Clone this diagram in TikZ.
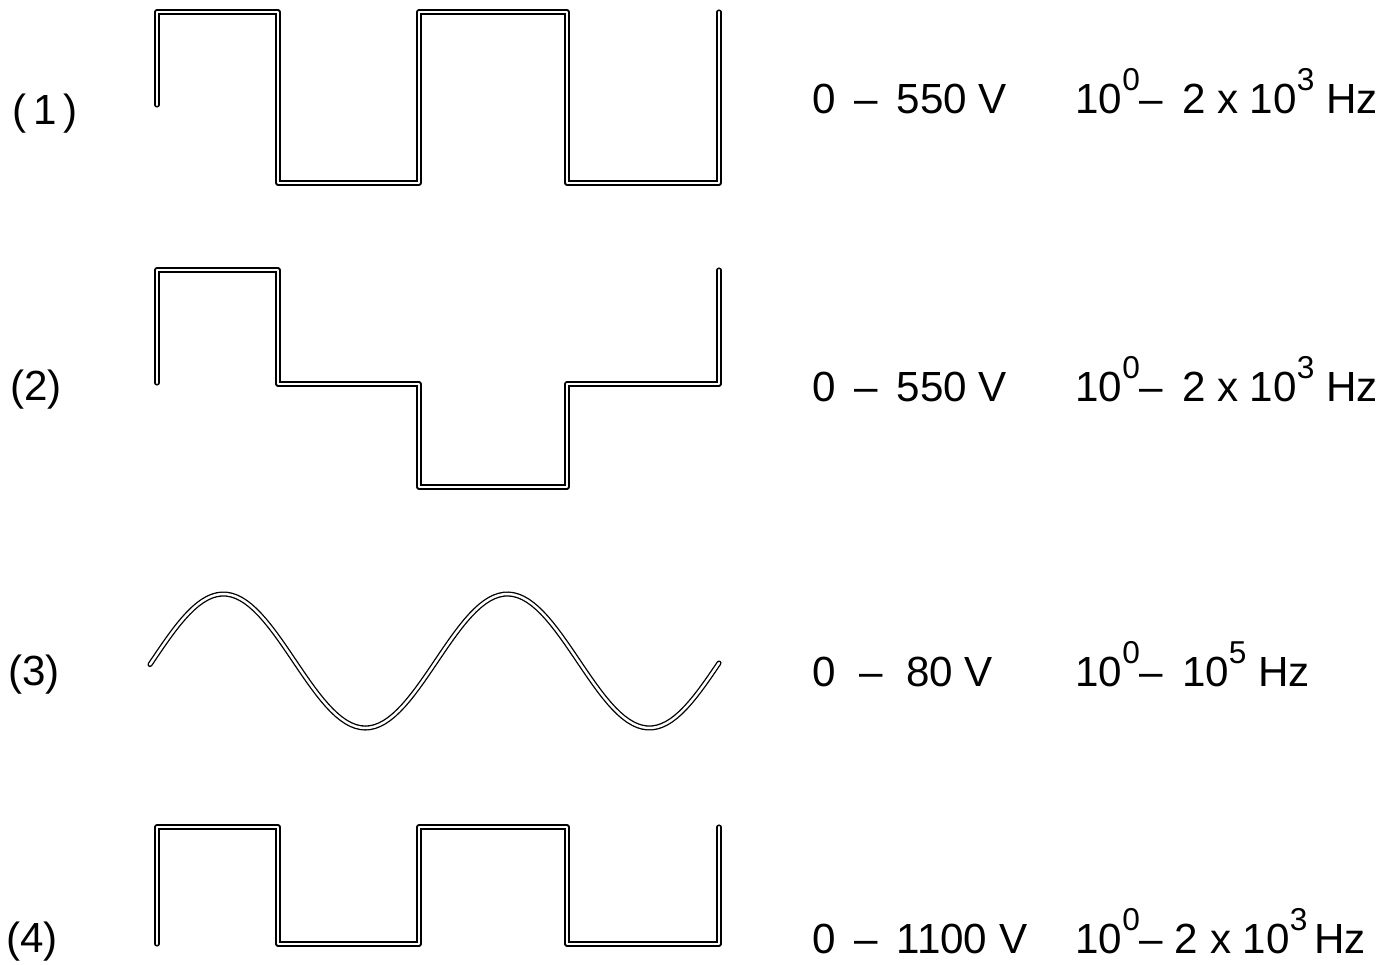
\documentclass[tikz,border=0pt]{standalone}
\usepackage{fontspec}
\setmainfont{Liberation Sans}
\usetikzlibrary{positioning}
\newcommand\pw[1]{\raisebox{13pt}{\fontsize{18}{18}\selectfont #1}}

\begin{document}
\begin{tikzpicture}[x=0.02cm, y=-0.02cm,
		wave/.style={line width=0.75pt, double=white, double distance=1.4pt, line join=round, line cap=round},
		txt/.style={anchor=base west, inner sep=0pt, font=\fontsize{24}{24}\selectfont}]
		\useasboundingbox (0,0) rectangle (1396,964);

		\node[txt] (lbl1) at (12,124) {(\,1\,)};
		\node[txt] (lbl2) at (10,400) {(2)};
		\node[txt] (lbl3) at (8,685) {(3)};
		\node[txt] (lbl4) at (6,952) {(4)};

		\draw[wave] (157,105) -- (157,12) -- (278,12) -- (278,183) -- (419,183) -- (419,12)
			-- (567,12) -- (567,183) -- (719,183) -- (719,12);
		\draw[wave] (157,383) -- (157,270) -- (278,270) -- (278,384) -- (419,384) -- (419,487)
			-- (567,487) -- (567,384) -- (719,384) -- (719,270);
		\draw[wave] plot[domain=150:719, samples=120] (\x, {661 - 67*sin((\x-150)*1.2676 - 3)});
		\draw[wave] (157,944) -- (157,827) -- (278,827) -- (278,944) -- (419,944) -- (419,827)
			-- (567,827) -- (567,944) -- (719,944) -- (719,827);

		\node[txt] (volt1) at (812,113) {0 \,–\, 550 V};
		\node[txt] (freq1) at (1075,113) {10\pw{0}– \,2 x 10\pw{3} Hz};
		\node[txt] (volt2) at (812,401) {0 \,–\, 550 V};
		\node[txt] (freq2) at (1075,401) {10\pw{0}– \,2 x 10\pw{3} Hz};
		\node[txt] (volt3) at (812,686) {0 \;–\; 80 V};
		\node[txt] (freq3) at (1075,686) {10\pw{0}– \,10\pw{5} Hz};
		\node[txt] (volt4) at (812,953) {0 \,–\, 1100 V};
		\node[txt] (freq4) at (1075,953) {10\pw{0}– 2 x 10\pw{3}\,Hz};
	\end{tikzpicture}
\end{document}
